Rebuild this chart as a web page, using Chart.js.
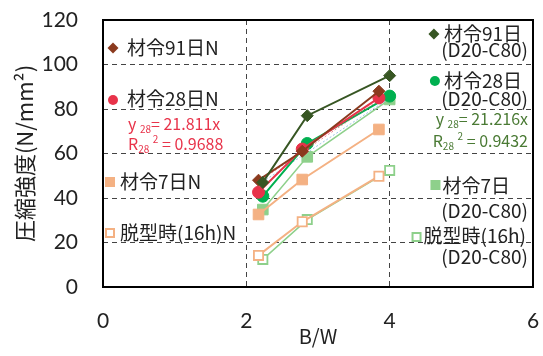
<!DOCTYPE html>
<html>
<head>
<meta charset="utf-8">
<script src="https://cdn.jsdelivr.net/npm/chart.js@4/dist/chart.umd.min.js"></script>
<style>
  html, body { margin: 0; padding: 0; background: #fff; }
  #wrap { width: 543px; height: 356px; }
</style>
</head>
<body>
<div id="wrap"><canvas id="c" width="543" height="356"></canvas></div>
<script>
// B/W ratio of each mix
const bwN = [2.17, 2.78, 3.85];
const bwD = [2.23, 2.85, 4.0];

// Compressive strength (N/mm2)
const day91N  = [48, 61, 88];
const day91D  = [47, 77, 95];
const day28N  = [42.6, 62, 85];
const day28D  = [40.8, 64.5, 85.8];
const day7N   = [32.6, 48.3, 70.8];
const day7D   = [34.8, 58.5, 84.3];
const demoldN = [14.2, 29.3, 49.8];
const demoldD = [12.4, 30.3, 52.4];

// Linear fits through the origin for the 28-day results
const slope28N = 21.811, r2_28N = '0.9688';
const slope28D = 21.216, r2_28D = '0.9432';

const xTicks = [0, 2, 4, 6];
const yTicks = [0, 20, 40, 60, 80, 100, 120];

const C = {
  brown: '#8B3A1E', dkgreen: '#375623', red: '#E8334A', green: '#00B050',
  orange: '#F4B183', ltgreen: '#8ED08B', redText: '#E8334A', greenText: '#4A7A34'
};

const pts = (xs, ys) => xs.map((x, i) => ({ x, y: ys[i] }));
const trend = (xs, k) => [xs[0], xs[xs.length - 1]].map(x => ({ x, y: k * x }));

function series(label, xs, ys, color, style, opts = {}) {
  return Object.assign({
    label, data: pts(xs, ys), showLine: true,
    borderColor: color, backgroundColor: color,
    pointBackgroundColor: color, pointBorderColor: color,
    pointStyle: style, pointRadius: 6, pointBorderWidth: 1,
    borderWidth: 2, tension: 0
  }, opts);
}

const datasets = [
  series('脱型時(16h) D20-C80', bwD, demoldD, C.ltgreen, 'rect',
    { pointRadius: 6.5, pointBackgroundColor: '#fff', pointBorderWidth: 1.8, borderWidth: 1.5 }),
  series('脱型時(16h)N', bwN, demoldN, C.orange, 'rect',
    { pointRadius: 6.5, pointBackgroundColor: '#fff', pointBorderWidth: 1.8 }),
  series('材令7日 D20-C80', bwD, day7D, C.ltgreen, 'rect', { pointRadius: 7.5, borderWidth: 1.5 }),
  series('材令7日N', bwN, day7N, C.orange, 'rect', { pointRadius: 7.5 }),
  { label: 'trend D', data: trend(bwD, slope28D), showLine: true, borderColor: '#9DC3E6',
    borderWidth: 1, borderDash: [2, 2], pointRadius: 0 },
  series('材令28日 D20-C80', bwD, day28D, C.green, 'circle'),
  { label: 'trend N', data: trend(bwN, slope28N), showLine: true, borderColor: 'rgba(232,51,74,0.6)',
    borderWidth: 1, borderDash: [2, 2], pointRadius: 0 },
  series('材令28日N', bwN, day28N, C.red, 'circle'),
  series('材令91日N', bwN, day91N, C.brown, 'rectRot'),
  series('材令91日 D20-C80', bwD, day91D, C.dkgreen, 'rectRot')
].reverse();

const JP = '"Noto Sans CJK JP", "Noto Sans", sans-serif';

function drawMarker(ctx, type, x, y, color, s) {
  ctx.save();
  ctx.fillStyle = color; ctx.strokeStyle = color;
  if (type === 'diamond') {
    ctx.beginPath();
    ctx.moveTo(x, y - s); ctx.lineTo(x + s, y); ctx.lineTo(x, y + s); ctx.lineTo(x - s, y);
    ctx.closePath(); ctx.fill();
  } else if (type === 'circle') {
    ctx.beginPath(); ctx.arc(x, y, s, 0, Math.PI * 2); ctx.fill();
  } else if (type === 'square') {
    ctx.fillRect(x - s, y - s, 2 * s, 2 * s);
  } else if (type === 'open') {
    ctx.lineWidth = 2;
    ctx.fillStyle = '#fff';
    ctx.fillRect(x - s, y - s, 2 * s, 2 * s);
    ctx.strokeRect(x - s, y - s, 2 * s, 2 * s);
  }
  ctx.restore();
}

// text built from segments; sub/sup segments use a smaller font and shifted baseline
function richText(ctx, segs, x, y, align, size, color) {
  ctx.save();
  ctx.fillStyle = color;
  ctx.textBaseline = 'middle';
  ctx.textAlign = 'left';
  const fontOf = s => (s.sub || s.sup ? Math.round(size * 0.62) : size) + 'px ' + JP;
  let w = 0;
  segs.forEach(s => { ctx.font = fontOf(s); w += ctx.measureText(s.t).width; });
  let cx = align === 'right' ? x - w : x;
  segs.forEach(s => {
    ctx.font = fontOf(s);
    const dy = s.sub ? size * 0.3 : s.sup ? -size * 0.3 : 0;
    ctx.fillText(s.t, cx, y + dy);
    cx += ctx.measureText(s.t).width;
  });
  ctx.restore();
  return align === 'right' ? x - w : x + w;
}

function label(ctx, text, x, y, align, size, color) {
  ctx.save();
  ctx.font = size + 'px ' + JP;
  ctx.fillStyle = color || '#222';
  ctx.textBaseline = 'middle';
  ctx.textAlign = align;
  ctx.fillText(text, x, y);
  const w = ctx.measureText(text).width;
  ctx.restore();
  return align === 'right' ? x - w : x + w;
}

const decor = {
  id: 'decor',
  afterDatasetsDraw(chart) {
    const { ctx, chartArea: a } = chart;
    ctx.save();
    ctx.strokeStyle = '#000';
    ctx.lineWidth = 2;
    ctx.strokeRect(a.left, a.top, a.right - a.left, a.bottom - a.top);
    ctx.restore();
  },
  afterDraw(chart) {
    const { ctx } = chart;
    const fs = 19, fe = 16;
    // left-side legend (N series)
    drawMarker(ctx, 'diamond', 113, 48, C.brown, 5.5);
    label(ctx, '材令91日N', 127, 48, 'left', fs);
    drawMarker(ctx, 'circle', 113, 100, C.red, 5);
    label(ctx, '材令28日N', 127, 99, 'left', fs);
    richText(ctx, [{ t: 'y ' }, { t: '28', sub: 1 }, { t: '= ' + slope28N + 'x' }], 128, 124, 'left', fe, C.redText);
    richText(ctx, [{ t: 'R' }, { t: '28', sub: 1 }, { t: ' ' }, { t: '2', sup: 1 }, { t: ' = ' + r2_28N }], 128, 144, 'left', fe, C.redText);
    drawMarker(ctx, 'square', 110, 182, C.orange, 5);
    label(ctx, '材令7日N', 120, 182, 'left', fs);
    drawMarker(ctx, 'open', 110, 233, C.orange, 4);
    label(ctx, '脱型時(16h)N', 120, 233, 'left', fs);

    // right-side legend (D20-C80 series)
    let l = label(ctx, '材令91日', 522, 34, 'right', fs);
    drawMarker(ctx, 'diamond', l - 10, 34, C.dkgreen, 5.5);
    label(ctx, '(D20-C80)', 528, 50, 'right', fs);
    l = label(ctx, '材令28日', 522, 81, 'right', fs);
    drawMarker(ctx, 'circle', l - 9, 81, C.green, 5);
    label(ctx, '(D20-C80)', 528, 99, 'right', fs);
    richText(ctx, [{ t: 'y ' }, { t: '28', sub: 1 }, { t: '= ' + slope28D + 'x' }], 528, 119, 'right', fe, C.greenText);
    richText(ctx, [{ t: 'R' }, { t: '28', sub: 1 }, { t: ' ' }, { t: '2', sup: 1 }, { t: ' = ' + r2_28D }], 528, 141, 'right', fe, C.greenText);
    l = label(ctx, '材令7日', 510, 186, 'right', fs);
    drawMarker(ctx, 'square', l - 7, 185, C.ltgreen, 5);
    label(ctx, '(D20-C80)', 528, 211, 'right', fs);
    l = label(ctx, '脱型時(16h)', 526, 236, 'right', fs);
    drawMarker(ctx, 'open', l - 7, 237, C.ltgreen, 4);
    label(ctx, '(D20-C80)', 528, 257, 'right', fs);
  }
};

const tickFont = { family: 'Lato, "Noto Sans", sans-serif', size: 21 };
const noEdgePad = s => { s.paddingTop = 0; s.paddingBottom = 0; s.paddingLeft = 0; s.paddingRight = 0; };

new Chart(document.getElementById('c'), {
  type: 'scatter',
  data: { datasets },
  plugins: [decor],
  options: {
    responsive: false,
    animation: false,
    events: [],
    layout: { padding: { top: 20, right: 10, left: 0, bottom: 0 } },
    plugins: { legend: { display: false }, tooltip: { enabled: false } },
    scales: {
      x: {
        type: 'linear', min: 0, max: 6,
        afterBuildTicks: s => { s.ticks = xTicks.map(v => ({ value: v })); },
        afterFit: s => { s.height = 69; noEdgePad(s); },
        ticks: { font: tickFont, color: '#222', padding: 22 },
        grid: { color: '#444', lineWidth: 1, drawTicks: false },
        border: { display: false, dash: [5, 4] },
        title: { display: true, text: 'B/W', color: '#222',
          font: { family: JP, size: 20 }, padding: { top: 0, bottom: 8 } }
      },
      y: {
        type: 'linear', min: 0, max: 120,
        afterBuildTicks: s => { s.ticks = yTicks.map(v => ({ value: v })); },
        afterFit: s => { s.width = 103; noEdgePad(s); },
        ticks: { font: tickFont, color: '#222', padding: 25 },
        grid: { color: '#444', lineWidth: 1, drawTicks: false },
        border: { display: false, dash: [5, 4] },
        title: { display: true, text: '圧縮強度(N/mm²)', color: '#222',
          font: { family: JP, size: 22 }, padding: { top: 11, bottom: 0 } }
      }
    }
  }
});
</script>
</body>
</html>
